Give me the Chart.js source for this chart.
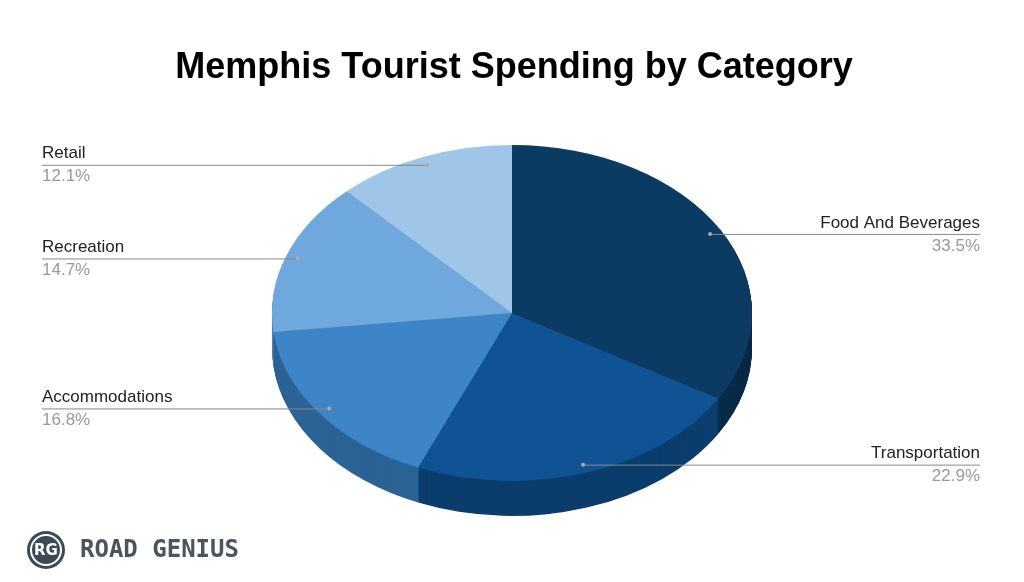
<!DOCTYPE html>
<html><head><meta charset="utf-8">
<script src="https://cdn.jsdelivr.net/npm/chart.js@4"></script>
<style>html,body{margin:0;padding:0;background:#fff}#wrap{width:1024px;height:582px}</style>
</head><body><div id="wrap"><canvas id="c"></canvas></div>
<script>
const categories = ["Food And Beverages","Transportation","Accommodations","Recreation","Retail"];
const values = [33.5,22.9,16.8,14.7,12.1];
const colors = ["#0b3a62","#0f5394","#3d85c6","#6fa8dc","#9fc5e8"];
const sideColors = ["#072a47","#0b3d6d","#2c6396","#5383ad","#7a9cbb"];
const labelSide = ["right","right","left","left","left"];
const SY = 0.7, DEPTH = 35;

const pie3d = {
  id:'pie3d',
  beforeDatasetsDraw(chart){
    const ctx = chart.ctx;
    const arcs = chart.getDatasetMeta(0).data;
    const cx = arcs[0].x, cy = arcs[0].y;
    ctx.save();
    ctx.translate(cx,cy); ctx.scale(1,SY); ctx.translate(-cx,-cy);
    for(let d=DEPTH; d>=1; d--){
      const off = d/SY;
      arcs.forEach((a,i)=>{
        ctx.beginPath();
        ctx.moveTo(a.x,a.y+off);
        ctx.arc(a.x,a.y+off,a.outerRadius,a.startAngle,a.endAngle);
        ctx.closePath();
        ctx.fillStyle = sideColors[i];
        ctx.fill();
      });
    }
  },
  afterDatasetsDraw(chart){ chart.ctx.restore(); },
  afterDraw(chart){
    const ctx = chart.ctx;
    const arcs = chart.getDatasetMeta(0).data;
    ctx.save();
    ctx.fillStyle='#000';
    ctx.font='bold 36px "Liberation Sans", Arial, sans-serif';
    ctx.textAlign='center'; ctx.textBaseline='middle';
    ctx.fillText('Memphis Tourist Spending by Category',514,68);
    arcs.forEach((a,i)=>{
      const mid=(a.startAngle+a.endAngle)/2;
      const r=a.outerRadius*0.95;
      const px=a.x+r*Math.cos(mid), py=a.y+SY*r*Math.sin(mid);
      const right = labelSide[i]==='right';
      const lx = right?980:42;
      ctx.strokeStyle='#888'; ctx.lineWidth=1;
      ctx.beginPath(); ctx.moveTo(px,py+0.5); ctx.lineTo(lx,py+0.5); ctx.stroke();
      ctx.fillStyle='#aaa'; ctx.beginPath(); ctx.arc(px,py,2,0,Math.PI*2); ctx.fill();
      ctx.textAlign = right?'right':'left';
      ctx.font='17px "Liberation Sans", Arial, sans-serif';
      ctx.fillStyle='#222'; ctx.fillText(categories[i],lx,py-11);
      ctx.fillStyle='#999'; ctx.fillText(values[i].toFixed(1)+'%',lx,py+12);
    });
    // logo
    ctx.fillStyle='#3c4a55';
    ctx.beginPath(); ctx.arc(46,550,19,0,Math.PI*2); ctx.fill();
    ctx.strokeStyle='#fff'; ctx.lineWidth=2;
    ctx.beginPath(); ctx.arc(46,550,15,0,Math.PI*2); ctx.stroke();
    ctx.fillStyle='#fff'; ctx.textAlign='center';
    ctx.font='bold 15px "DejaVu Sans", sans-serif';
    ctx.fillText('RG',46,551);
    ctx.fillStyle='#4a5560'; ctx.textAlign='left';
    ctx.font='bold 24px "DejaVu Sans Mono", monospace';
    ctx.fillText('ROAD GENIUS',80,551);
    ctx.restore();
  }
};

new Chart(document.getElementById('c'),{
  type:'pie',
  data:{labels:categories,datasets:[{data:values,backgroundColor:colors,borderWidth:0}]},
  options:{
    responsive:true,maintainAspectRatio:false,animation:false,
    layout:{padding:{left:272,right:272,top:73,bottom:29}},
    plugins:{legend:{display:false},tooltip:{enabled:false}}
  },
  plugins:[pie3d]
});
</script></body></html>
